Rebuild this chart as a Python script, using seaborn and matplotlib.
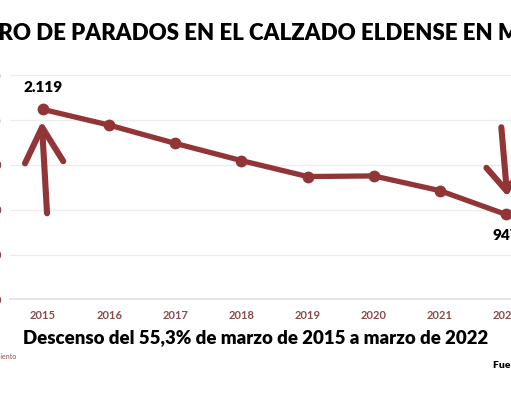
import matplotlib.pyplot as plt
import numpy as np
import pandas as pd
import seaborn as sns

# datos: parados del calzado en Elda, mes de marzo
anios = [2015, 2016, 2017, 2018, 2019, 2020, 2021, 2022]
parados = [2119, 1944, 1740, 1548, 1370, 1377, 1213, 947]
yticks = [0, 500, 1000, 1500, 2000, 2500]
ytick_labels = ["0", "500", "1.000", "1.500", "2.000", "2.500"]

ROJO = "#923537"
ROJO_TXT = "#8a4b4d"

sns.set_theme(style="white")
plt.rcParams["font.family"] = ["Lato", "DejaVu Sans"]

df = pd.DataFrame({"anio": anios, "parados": parados})

fig = plt.figure(figsize=(5.11, 4.0), dpi=100)
ax = fig.add_axes([10 / 511, 1 - 299.3 / 400, 529 / 511, 224 / 400])

sns.lineplot(
    data=df,
    x="anio",
    y="parados",
    ax=ax,
    color=ROJO,
    linewidth=3.8,
    marker="o",
    markersize=8.5,
    markeredgewidth=0,
)
ax.set_xlim(2014.5, 2022.5)
ax.set_ylim(0, 2500)
ax.set_xticks(anios)
ax.set_xticklabels([str(a) for a in anios], color=ROJO_TXT, fontsize=8, fontweight="bold")
ax.set_yticks(yticks)
ax.set_yticklabels(ytick_labels, color=ROJO_TXT, fontsize=8, fontweight="bold")
ax.tick_params(axis="x", length=0, pad=8)
ax.tick_params(axis="y", length=0, pad=6)
ax.grid(axis="y", color="#ececec", linewidth=0.9)
for s in ["top", "right", "left"]:
    ax.spines[s].set_visible(False)
ax.spines["bottom"].set_color("#e0e0e0")
ax.set_xlabel("")
ax.set_ylabel("")

# etiquetas de inicio y fin
ax.annotate("2.119", (anios[0], parados[0]), xytext=(0, 16), textcoords="offset points",
            ha="center", va="center", fontsize=11, fontweight="heavy", color="black")
ax.annotate("947", (anios[-1], parados[-1]), xytext=(0, -15), textcoords="offset points",
            ha="center", va="center", fontsize=11, fontweight="heavy", color="black")

# flechas a mano alzada
ax.annotate("", xy=(2014.98, 1990), xytext=(2015.06, 960),
            arrowprops=dict(arrowstyle="->,head_length=2.1,head_width=1.15",
                            color=ROJO, lw=4.4, shrinkA=0, shrinkB=0, capstyle="round"))
ax.annotate("", xy=(2022.02, 1150), xytext=(2021.93, 1920),
            arrowprops=dict(arrowstyle="->,head_length=1.5,head_width=1.1",
                            color=ROJO, lw=4.4, shrinkA=0, shrinkB=0, capstyle="round"))

fig.text(0.5, 1 - 33 / 400, "NÚMERO DE PARADOS EN EL CALZADO ELDENSE EN MARZO",
         ha="center", va="center", fontsize=16, fontweight="heavy", color="black")
fig.text(256 / 511, 1 - 338 / 400, "Descenso del 55,3% de marzo de 2015 a marzo de 2022",
         ha="center", va="center", fontsize=13.4, fontweight="heavy", color="black")
fig.text(17 / 511, 1 - 357 / 400, "Ayuntamiento", ha="right", va="center",
         fontsize=5, color=ROJO_TXT)
fig.text(493 / 511, 1 - 366 / 400, "Fuente: SEPE", ha="left", va="center",
         fontsize=7.5, fontweight="heavy", color="black")

fig.savefig("out.png", dpi=100)
